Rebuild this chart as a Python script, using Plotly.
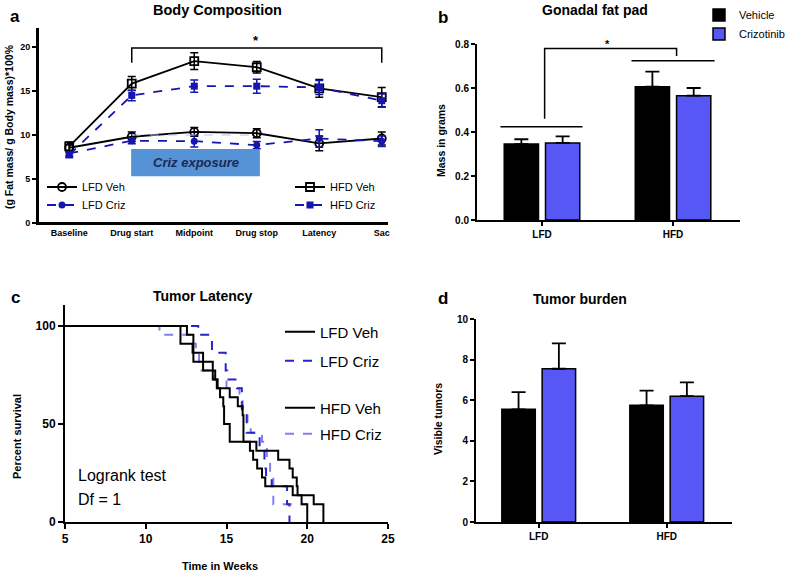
import plotly.graph_objects as go

W, H = 785, 574
def fx(p): return p / W
def fy(p): return 1 - p / H

FONT = "Liberation Sans, Arial, sans-serif"
BLUE_DARK = "#1515b0"
BAR_BLUE = "#5757f5"
KM_BLUE = "#2525c8"
KM_LIGHT = "#8080f0"

# ---------------- Panel a data ----------------
timepoints = ["Baseline", "Drug start", "Midpoint", "Drug stop", "Latency", "Sac"]
lfd_veh = [8.55, 9.8, 10.35, 10.2, 9.05, 9.6]
lfd_veh_err = [0.35, 0.55, 0.5, 0.5, 0.85, 0.75]
lfd_criz = [7.9, 9.35, 9.3, 8.85, 9.6, 9.3]
lfd_criz_err = [0.3, 0.35, 0.65, 0.4, 1.0, 0.6]
hfd_veh = [8.7, 15.85, 18.4, 17.7, 15.3, 14.3]
hfd_veh_err = [0.5, 0.8, 0.95, 0.65, 1.0, 1.1]
hfd_criz = [7.75, 14.5, 15.55, 15.55, 15.4, 13.9]
hfd_criz_err = [0.3, 0.6, 0.7, 0.8, 0.8, 0.75]

# ---------------- Panel b / d data ----------------
groups = ["LFD", "HFD"]
fat_vehicle = [0.345, 0.606]
fat_vehicle_err = [0.022, 0.068]
fat_criz = [0.35, 0.565]
fat_criz_err = [0.03, 0.035]
tumors_vehicle = [5.55, 5.75]
tumors_vehicle_err = [0.85, 0.72]
tumors_criz = [7.55, 6.2]
tumors_criz_err = [1.25, 0.68]

# ---------------- Panel c data (Kaplan-Meier steps) ----------------
lfd_veh_t = [5, 12.15, 12.9, 12.95, 14.15, 14.3, 14.45, 14.6, 14.8, 14.85, 15.2, 16.85, 18.2, 18.9, 19.1, 19.35, 19.4, 20.4, 21.0]
lfd_veh_s = [100, 90.9, 86.4, 81.8, 77.3, 72.7, 68.2, 63.6, 59.1, 50.0, 40.9, 36.4, 31.8, 27.3, 22.7, 18.2, 13.6, 9.1, 0]
hfd_veh_t = [5, 12.55, 12.95, 13.55, 14.15, 14.4, 15.2, 15.7, 16.0, 16.05, 16.45, 16.65, 16.9, 17.2, 17.4, 19.1, 19.65, 20.0]
hfd_veh_s = [100, 95.5, 86.4, 77.3, 72.7, 68.2, 63.6, 59.1, 54.5, 40.9, 36.4, 31.8, 27.3, 22.7, 18.2, 13.6, 9.1, 0]
lfd_criz_t = [5, 13.25, 14.1, 14.95, 15.05, 15.65, 15.95, 16.25, 17.05, 17.35, 17.45, 17.8, 18.75, 18.9]
lfd_criz_s = [100, 95.5, 86.4, 77.3, 72.7, 68.2, 54.5, 45.5, 36.4, 27.3, 22.7, 18.2, 9.1, 0]
hfd_criz_t = [5, 10.85, 12.9, 13.1, 13.3, 14.2, 15.0, 15.8, 16.0, 16.3, 16.5, 17.2, 17.5, 17.7, 17.9, 20.0]
hfd_criz_s = [100, 95.5, 90.9, 86.4, 77.3, 72.7, 68.2, 63.6, 54.5, 50.0, 45.5, 40.9, 31.8, 22.7, 9.1, 9.1]

fig = go.Figure()

def errs(arr, color, w=4):
    return dict(type="data", array=arr, color=color, thickness=1.5, width=w)

xi = list(range(len(timepoints)))
fig.add_trace(go.Scatter(x=xi, y=lfd_veh, name="LFD Veh", mode="lines+markers",
    line=dict(color="black", width=1.8), marker=dict(symbol="circle-open", size=8, color="black", line=dict(width=1.8)),
    error_y=errs(lfd_veh_err, "black"), xaxis="x", yaxis="y", legend="legend"))
fig.add_trace(go.Scatter(x=xi, y=lfd_criz, name="LFD Criz", mode="lines+markers",
    line=dict(color=BLUE_DARK, width=1.8, dash="dash"), marker=dict(symbol="circle", size=7, color=BLUE_DARK),
    error_y=errs(lfd_criz_err, BLUE_DARK), xaxis="x", yaxis="y", legend="legend2"))
fig.add_trace(go.Scatter(x=xi, y=hfd_veh, name="HFD Veh", mode="lines+markers",
    line=dict(color="black", width=1.8), marker=dict(symbol="square-open", size=8, color="black", line=dict(width=1.8)),
    error_y=errs(hfd_veh_err, "black"), xaxis="x", yaxis="y", legend="legend3"))
fig.add_trace(go.Scatter(x=xi, y=hfd_criz, name="HFD Criz", mode="lines+markers",
    line=dict(color=BLUE_DARK, width=1.8, dash="dash"), marker=dict(symbol="square", size=7, color=BLUE_DARK),
    error_y=errs(hfd_criz_err, BLUE_DARK), xaxis="x", yaxis="y", legend="legend4"))

# Panel b bars
fig.add_trace(go.Bar(x=groups, y=fat_vehicle, name="Vehicle", marker=dict(color="black", line=dict(color="black", width=1.5)),
    error_y=dict(type="data", array=fat_vehicle_err, arrayminus=[0, 0], symmetric=False, color="black", thickness=1.8, width=7),
    xaxis="x2", yaxis="y2", legend="legend5"))
fig.add_trace(go.Bar(x=groups, y=fat_criz, name="Crizotinib", marker=dict(color=BAR_BLUE, line=dict(color="black", width=1.5)),
    error_y=dict(type="data", array=fat_criz_err, arrayminus=[0, 0], symmetric=False, color="black", thickness=1.8, width=7),
    xaxis="x2", yaxis="y2", legend="legend6"))

# Panel c KM curves
fig.add_trace(go.Scatter(x=hfd_criz_t, y=hfd_criz_s, name="HFD Criz", mode="lines", line=dict(color=KM_LIGHT, width=2, dash="dash", shape="hv"),
    xaxis="x3", yaxis="y3", legend="legend10"))
fig.add_trace(go.Scatter(x=lfd_criz_t, y=lfd_criz_s, name="LFD Criz", mode="lines", line=dict(color=KM_BLUE, width=2, dash="dash", shape="hv"),
    xaxis="x3", yaxis="y3", legend="legend8"))
fig.add_trace(go.Scatter(x=hfd_veh_t, y=hfd_veh_s, name="HFD Veh", mode="lines", line=dict(color="black", width=2, shape="hv"),
    xaxis="x3", yaxis="y3", legend="legend9"))
fig.add_trace(go.Scatter(x=lfd_veh_t, y=lfd_veh_s, name="LFD Veh", mode="lines", line=dict(color="black", width=2, shape="hv"),
    xaxis="x3", yaxis="y3", legend="legend7"))

# Panel d bars
fig.add_trace(go.Bar(x=groups, y=tumors_vehicle, name="Vehicle", showlegend=False, marker=dict(color="black", line=dict(color="black", width=1.5)),
    error_y=dict(type="data", array=tumors_vehicle_err, arrayminus=[0, 0], symmetric=False, color="black", thickness=1.8, width=7),
    xaxis="x4", yaxis="y4"))
fig.add_trace(go.Bar(x=groups, y=tumors_criz, name="Crizotinib", showlegend=False, marker=dict(color=BAR_BLUE, line=dict(color="black", width=1.5)),
    error_y=dict(type="data", array=tumors_criz_err, arrayminus=[0, 0], symmetric=False, color="black", thickness=1.8, width=7),
    xaxis="x4", yaxis="y4"))

def ax(**kw):
    base = dict(showline=True, linecolor="black", linewidth=2, ticks="outside", ticklen=4, tickwidth=1.5,
                tickcolor="black", showgrid=False, zeroline=False, fixedrange=True, automargin=False,
                layer="above traces",
                tickfont=dict(family=FONT, size=9, color="black", weight="bold"))
    base.update(kw)
    return base

tf10 = dict(family=FONT, size=10, color="black", weight="bold")
tf12 = dict(family=FONT, size=12, color="black", weight="bold")

fig.update_layout(
    width=W, height=H, margin=dict(l=0, r=0, t=0, b=0, pad=0, autoexpand=False),
    paper_bgcolor="white", plot_bgcolor="white",
    barmode="group", bargap=0.37, bargroupgap=0.17,
    font=dict(family=FONT, color="black"),
    xaxis=ax(domain=[fx(38), fx(388)], range=[-0.5, 5.1], tickvals=xi, ticktext=timepoints, ticklen=0, anchor="y"),
    yaxis=ax(domain=[fy(223), fy(28)], range=[0, 22.16], tickvals=[0, 5, 10, 15, 20], anchor="x"),
    xaxis2=ax(domain=[fx(477), fx(740)], type="category", range=[-0.496, 1.511], anchor="y2", tickfont=tf10),
    yaxis2=ax(domain=[fy(220), fy(44)], range=[0, 0.8], tickvals=[0, 0.2, 0.4, 0.6, 0.8], tickformat=".1f", anchor="x2", tickfont=tf10),
    xaxis3=ax(domain=[fx(65), fx(388)], range=[5, 25], tickvals=[5, 10, 15, 20, 25], anchor="y3", tickfont=tf12, ticklen=5),
    yaxis3=ax(domain=[fy(522), fy(305)], range=[0, 110.7], tickvals=[0, 50, 100], anchor="x3", tickfont=tf12, ticklen=5),
    xaxis4=ax(domain=[fx(476), fx(732)], type="category", range=[-0.49, 1.51], anchor="y4", tickfont=tf10),
    yaxis4=ax(domain=[fy(522), fy(319)], range=[0, 10], tickvals=[0, 2, 4, 6, 8, 10], anchor="x4", tickfont=tf10),
)

def leg(xp, yp, size):
    return dict(x=fx(xp), y=fy(yp), xanchor="left", yanchor="middle", bgcolor="rgba(0,0,0,0)",
                font=dict(family=FONT, size=size, color="black"), borderwidth=0, itemwidth=30)

fig.update_layout(
    legend=leg(42, 187, 11), legend2=leg(42, 205, 11),
    legend3=leg(290, 187, 11), legend4=leg(290, 205, 11),
    legend5=leg(699, 15, 11), legend6=leg(699, 34, 11),
    legend7=leg(280, 332, 15), legend8=leg(280, 361, 15),
    legend9=leg(280, 408, 15), legend10=leg(280, 434, 15),
)

shapes = [
    # Criz exposure box
    dict(type="rect", xref="x", yref="y", x0=0.99, x1=3.05, y0=5.3, y1=8.4, fillcolor="#5592d6", line=dict(width=0)),
    dict(type="line", xref="x", yref="y", x0=1.0, x1=3.0, y0=10.0, y1=10.0, line=dict(color="#b4c2e6", width=1, dash="dash")),
    # axis lines of panel a, along the axis domain
    dict(type="line", xref="x domain", yref="y domain", x0=0, x1=0, y0=0, y1=1, line=dict(color="black", width=2)),
    dict(type="line", xref="x domain", yref="y domain", x0=0, x1=1, y0=0, y1=0, line=dict(color="black", width=2)),
    # significance bracket a
    dict(type="path", xref="x", yref="y", path="M 1,18.2 L 1,19.9 L 5,19.9 L 5,18.2", line=dict(color="black", width=1.5)),
    # panel b group lines and bracket
    dict(type="line", xref="x2", yref="y2", x0=-0.317, x1=0.309, y0=0.424, y1=0.424, line=dict(color="black", width=1.5)),
    dict(type="line", xref="x2", yref="y2", x0=0.683, x1=1.317, y0=0.724, y1=0.724, line=dict(color="black", width=1.5)),
    dict(type="path", xref="x2", yref="y2", path="M 0.02,0.46 L 0.02,0.78 L 1.027,0.78 L 1.027,0.745", line=dict(color="black", width=1.5)),
]
fig.update_layout(shapes=shapes)

def ann(text, xp, yp, size, bold=True, **kw):
    d = dict(text=f"<b>{text}</b>" if bold else text, x=fx(xp), y=fy(yp), xref="paper", yref="paper",
             xanchor="center", yanchor="middle",
             showarrow=False, font=dict(family=FONT, size=size, color="black"))
    d.update(kw)
    return d

annotations = [
    ann("Body Composition", 217, 10, 14.5),
    ann("a", 15, 17, 17),
    ann("Gonadal fat pad", 595, 10, 14),
    ann("b", 443, 18, 17),
    ann("Tumor Latency", 203, 296, 14),
    ann("c", 15, 297, 17),
    ann("Tumor burden", 580, 299, 14),
    ann("d", 443, 298, 17),
    ann("(g Fat mass/ g Body mass)*100%", 9, 127, 10.5, textangle=-90),
    ann("Mass in grams", 441, 141, 10.5, textangle=-90),
    ann("Percent survival", 17, 437, 11, textangle=-90),
    ann("Visible tumors", 438, 419, 10.5, textangle=-90),
    ann("Time in Weeks", 220, 566, 11),
    ann("Logrank test", 76, 475, 16, bold=False, xanchor="left"),
    ann("Df = 1", 76, 500, 16, bold=False, xanchor="left"),
    dict(text="<b><i>Criz exposure</i></b>", x=2.02, y=6.85, xref="x", yref="y", showarrow=False,
         xanchor="center", yanchor="middle", font=dict(family=FONT, size=13, color="#1c2a55")),
    dict(text="<b>*</b>", x=2.99, y=20.7, xref="x", yref="y", showarrow=False, xanchor="center", yanchor="middle",
         font=dict(family=FONT, size=13, color="black")),
    dict(text="<b>*</b>", x=0.5, y=0.80, xref="x2", yref="y2", showarrow=False, xanchor="center", yanchor="middle",
         font=dict(family=FONT, size=11, color="black")),
]
fig.update_layout(annotations=annotations)

fig.write_html("out.html", config={"displayModeBar": False}, post_script="document.body.style.margin='0px';")
